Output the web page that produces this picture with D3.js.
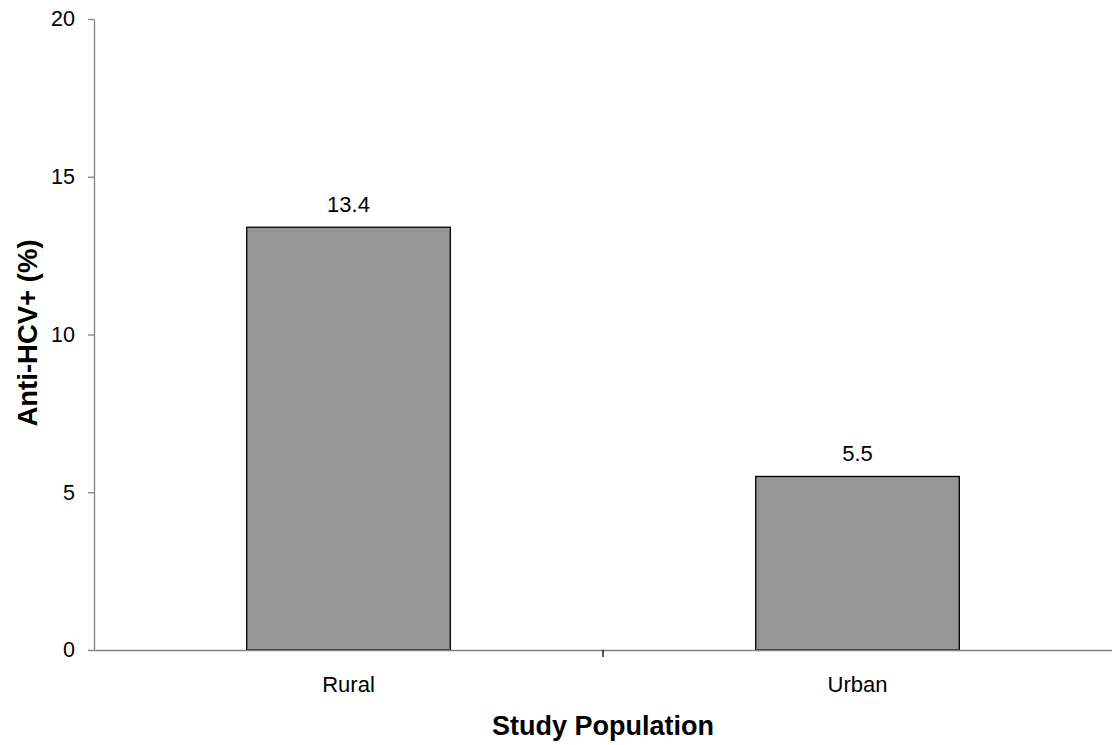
<!DOCTYPE html>
<html><head><meta charset="utf-8">
<script src="https://cdn.jsdelivr.net/npm/d3@7"></script>
<style>body{margin:0;background:#fff}svg{display:block}text{font-family:"Liberation Sans",Arial,sans-serif}</style>
</head><body><svg id="c" width="1112" height="745"></svg>
<script>
const categories = ["Rural", "Urban"];
const values = [13.4, 5.5];
const yTicks = [0, 5, 10, 15, 20];

const svg = d3.select("#c");
const mLeft = 94, mRight = 1112, mTop = 19, mBottom = 650;
const FONT = '"Liberation Sans",Arial,sans-serif';
const x = d3.scaleBand().domain(categories).range([mLeft, mRight]).paddingInner(0.6).paddingOuter(0.3);
const y = d3.scaleLinear().domain([0, 20]).range([mBottom, mTop]);

// bars
svg.selectAll("rect.bar").data(values).enter().append("rect")
  .attr("x", (d,i) => x(categories[i]))
  .attr("y", d => y(d))
  .attr("width", x.bandwidth())
  .attr("height", d => y(0) - y(d))
  .attr("fill", "#969696").attr("stroke", "#000").attr("stroke-width", 1.3);

// value labels
svg.selectAll("text.val").data(values).enter().append("text")
  .attr("x", (d,i) => x(categories[i]) + x.bandwidth()/2)
  .attr("y", d => y(d) - 15)
  .attr("text-anchor", "middle").attr("font-size", 22).attr("fill", "#000")
  .text(d => d.toFixed(1));

// y axis
const ya = svg.append("g").attr("transform", `translate(${mLeft},0)`)
  .call(d3.axisLeft(y).tickValues(yTicks).tickSize(6).tickPadding(13).tickSizeOuter(0));
ya.select(".domain").attr("stroke", "#808080").attr("stroke-width", 1.3);
ya.selectAll(".tick line").attr("stroke", "#808080").attr("stroke-width", 1.3);
ya.selectAll(".tick text").attr("font-size", 21.5).attr("fill", "#000").attr("font-family", FONT);

// x axis
const xa = svg.append("g").attr("transform", `translate(0,${mBottom})`)
  .call(d3.axisBottom(x).tickSize(0).tickPadding(0).tickSizeOuter(0));
xa.select(".domain").attr("stroke", "#808080").attr("stroke-width", 1.3);
xa.selectAll(".tick text").attr("font-size", 22).attr("fill", "#000").attr("font-family", FONT)
  .attr("dy", null).attr("y", 42);
// category separator tick
svg.append("line")
  .attr("x1", x.step() + mLeft).attr("x2", x.step() + mLeft)
  .attr("y1", mBottom).attr("y2", mBottom + 7)
  .attr("stroke", "#000").attr("stroke-width", 1.3);

// titles
svg.append("text").attr("x", (mLeft + mRight)/2).attr("y", 735)
  .attr("text-anchor", "middle").attr("font-size", 27).attr("font-weight", "bold")
  .text("Study Population");
svg.append("text").attr("transform", "translate(37,333) rotate(-90)")
  .attr("text-anchor", "middle").attr("font-size", 27.5).attr("font-weight", "bold")
  .text("Anti-HCV+ (%)");
</script></body></html>
